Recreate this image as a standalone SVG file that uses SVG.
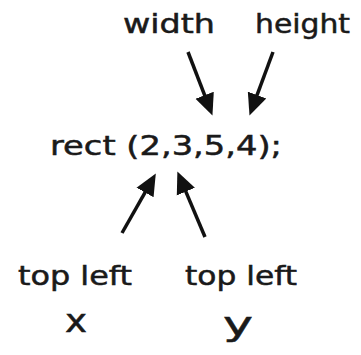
<svg xmlns="http://www.w3.org/2000/svg" width="361" height="355" viewBox="0 0 361 355">
<style>
text{font-family:"DejaVu Sans","Liberation Sans",sans-serif;font-size:26px;fill:#1a1a1a;stroke:#1a1a1a;stroke-width:0.5}
.big{font-size:32px}
.c line{stroke:#111;stroke-width:3.5}
</style>
<defs>
<marker id="ah" markerUnits="userSpaceOnUse" markerWidth="24" markerHeight="22" viewBox="0 -10 22 20" refX="2" refY="0" orient="auto">
<path d="M0,-9 L20,0 L0,9 z" fill="#111"/>
</marker>
</defs>
<rect width="361" height="355" fill="#fff"/>
<g id="width"><text x="123" y="33" textLength="92" lengthAdjust="spacingAndGlyphs">width</text></g>
<g id="height"><text x="255" y="33" textLength="95" lengthAdjust="spacingAndGlyphs">height</text></g>
<g id="rect"><text x="50" y="155" textLength="232" lengthAdjust="spacingAndGlyphs">rect (2,3,5,4);</text></g>
<g id="topleftx"><text x="18" y="285" textLength="114" lengthAdjust="spacingAndGlyphs">top left</text><text class="big" x="65" y="332" textLength="22" lengthAdjust="spacingAndGlyphs">x</text></g>
<g id="tolefty"><text x="185" y="285" textLength="112" lengthAdjust="spacingAndGlyphs">top left</text><text class="big" x="223" y="335" textLength="30" lengthAdjust="spacingAndGlyphs">y</text></g>
<g class="c" id="connectors">
<line x1="188" y1="52" x2="205.4" y2="97.2" marker-end="url(#ah)"/>
<line x1="273" y1="52" x2="256.3" y2="97.1" marker-end="url(#ah)"/>
<line x1="122" y1="233" x2="146.1" y2="190.6" marker-end="url(#ah)"/>
<line x1="205" y1="237" x2="185" y2="189.6" marker-end="url(#ah)"/>
</g>
</svg>
